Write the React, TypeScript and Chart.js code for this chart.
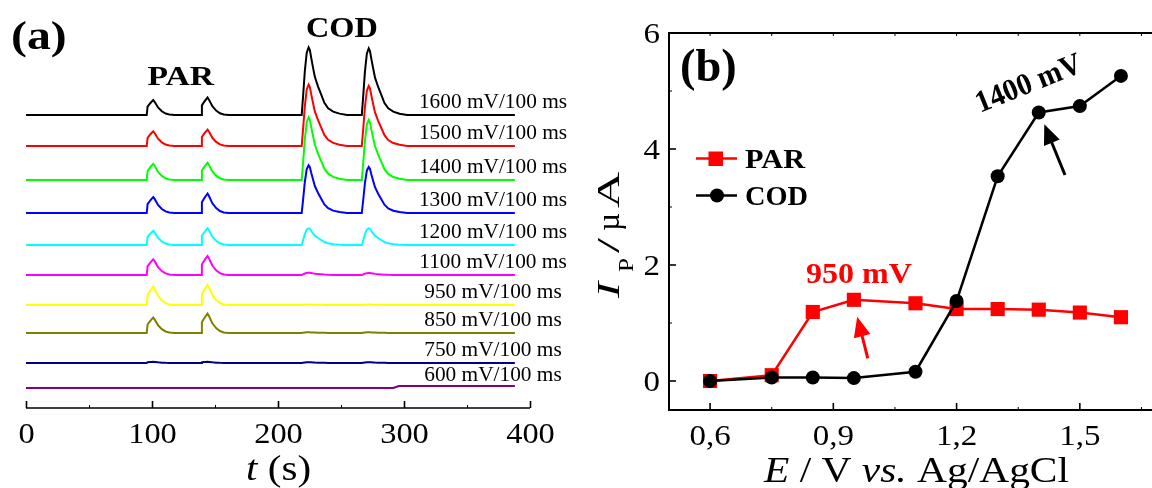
import React, { useEffect, useRef } from "react";
import { Chart, registerables } from "chart.js";

Chart.register(...registerables);

const SERIF = '"Liberation Serif", "Times New Roman", Times, serif';

// ---------------- Panel (a): chromatograms ----------------
const traceLabels = [
  "1600 mV/100 ms",
  "1500 mV/100 ms",
  "1400 mV/100 ms",
  "1300 mV/100 ms",
  "1200 mV/100 ms",
  "1100 mV/100 ms",
  "950 mV/100 ms",
  "850 mV/100 ms",
  "750 mV/100 ms",
  "600 mV/100 ms",
];
const traceColors = [
  "#000000",
  "#ff0000",
  "#00ff00",
  "#0000ff",
  "#00ffff",
  "#ff00ff",
  "#ffff00",
  "#808000",
  "#000080",
  "#800080",
];
// vertical offset of each trace (arbitrary stacking units)
const traceOffsets = [293, 262, 228, 195, 163, 133, 103, 75, 45, 20];
// peak heights (same units)
const parPeak1 = [15, 14.7, 16.2, 16, 14.3, 15.7, 18.3, 15.4, 1.3, 0];
const parPeak2 = [17.5, 16.4, 17.2, 19.4, 16.7, 19, 20, 19.4, 1.3, 0];
const codPeak1 = [67.7, 61.4, 62.8, 47.7, 16.7, 2.3, 0.5, 0.7, 0.8, 0];
const codPeak2 = [66.7, 60, 60.2, 46, 16.7, 2, 0.5, 0.7, 0.8, 0];
const lateDrift = [0, 0, 0, 0, 0, 0, 0, 0, 0, 2];
const driftTime = 292;
// injection (peak start) times, s
const peakStarts = [95.8, 138.9, 218.8, 266.5];
// normalised peak shapes: [seconds after start, fraction of height]
const parProfile: [number, number][] = [
  [0, 0], [0.7, 0.55], [2.2, 0.72], [3.5, 0.85], [5.2, 1], [6.5, 0.85],
  [9, 0.5], [12, 0.25], [15, 0.1], [18, 0.03], [22, 0],
];
const codProfile: [number, number][] = [
  [0, 0], [1, 0.25], [2.5, 0.65], [4, 0.92], [5.5, 1], [6.5, 0.96], [7.5, 0.85],
  [9, 0.7], [10.5, 0.56], [13, 0.42], [15.5, 0.3], [18, 0.18], [21, 0.1],
  [25, 0.05], [30, 0.02], [36, 0],
];
const runEnd = 388;
const timeTicks = [0, 100, 200, 300, 400];
const timeMinorTicks = [50, 150, 250, 350];

// ---------------- Panel (b): peak current vs potential ----------------
const potentials = [0.6, 0.75, 0.85, 0.95, 1.1, 1.2, 1.3, 1.4, 1.5, 1.6];
const parCurrent = [0, 0.1, 1.19, 1.4, 1.34, 1.24, 1.24, 1.23, 1.18, 1.1];
const codCurrent = [0, 0.06, 0.06, 0.05, 0.16, 1.38, 3.53, 4.63, 4.74, 5.26];
const potentialTicks = [0.6, 0.9, 1.2, 1.5];
const potentialMinorTicks = [0.75, 1.05, 1.35, 1.65];
const topAxisTicks = [0.6, 0.75, 0.9, 1.05, 1.2, 1.35, 1.5, 1.65];
const currentTicks = [0, 2, 4, 6];
const currentMinorTicks = [1, 3, 5];

type TextOpts = {
  font: string;
  color?: string;
  align?: "left" | "center" | "right";
  baseline?: CanvasTextBaseline;
  width?: number;
  sx?: number;
};

function drawText(ctx: CanvasRenderingContext2D, text: string, x: number, y: number, o: TextOpts) {
  ctx.save();
  ctx.font = o.font;
  ctx.fillStyle = o.color ?? "#000";
  ctx.textBaseline = o.baseline ?? "alphabetic";
  const w = ctx.measureText(text).width;
  const sx = o.width ? o.width / w : o.sx ?? 1;
  ctx.translate(x, y);
  ctx.scale(sx, 1);
  ctx.textAlign = o.align ?? "left";
  ctx.fillText(text, 0, 0);
  ctx.restore();
}

type Part = { text: string; font: string };
function drawRich(
  ctx: CanvasRenderingContext2D,
  parts: Part[],
  x: number,
  y: number,
  align: "left" | "center",
  width: number | undefined,
  color = "#000"
) {
  ctx.save();
  let total = 0;
  const ws = parts.map((p) => {
    ctx.font = p.font;
    const w = ctx.measureText(p.text).width;
    total += w;
    return w;
  });
  const sx = width ? width / total : 1;
  const start = align === "center" ? x - (total * sx) / 2 : x;
  ctx.translate(start, y);
  ctx.scale(sx, 1);
  ctx.fillStyle = color;
  ctx.textAlign = "left";
  ctx.textBaseline = "alphabetic";
  let cx = 0;
  parts.forEach((p, i) => {
    ctx.font = p.font;
    ctx.fillText(p.text, cx, 0);
    cx += ws[i];
  });
  ctx.restore();
}

function line(ctx: CanvasRenderingContext2D, x1: number, y1: number, x2: number, y2: number) {
  ctx.beginPath();
  ctx.moveTo(x1, y1);
  ctx.lineTo(x2, y2);
  ctx.stroke();
}

function drawArrow(
  ctx: CanvasRenderingContext2D,
  x1: number,
  y1: number,
  x2: number,
  y2: number,
  color: string,
  lw: number,
  headLen: number,
  headW: number
) {
  const a = Math.atan2(y2 - y1, x2 - x1);
  const c = Math.cos(a);
  const s = Math.sin(a);
  const bx = x2 - headLen * c;
  const by = y2 - headLen * s;
  ctx.save();
  ctx.strokeStyle = color;
  ctx.fillStyle = color;
  ctx.lineWidth = lw;
  line(ctx, x1, y1, bx + 2 * c, by + 2 * s);
  ctx.beginPath();
  ctx.moveTo(x2, y2);
  ctx.lineTo(bx - (headW / 2) * s, by + (headW / 2) * c);
  ctx.lineTo(bx + (headW / 2) * s, by - (headW / 2) * c);
  ctx.closePath();
  ctx.fill();
  ctx.restore();
}

function buildTrace(i: number) {
  const base = traceOffsets[i];
  const heights = [parPeak1[i], parPeak2[i], codPeak1[i], codPeak2[i]];
  const profiles = [parProfile, parProfile, codProfile, codProfile];
  const pts: { x: number; y: number }[] = [{ x: 0, y: base }];
  peakStarts.forEach((t0, k) => {
    profiles[k].forEach(([dt, f]) => pts.push({ x: t0 + dt, y: base + heights[k] * f }));
  });
  pts.push({ x: runEnd, y: base });
  if (lateDrift[i] !== 0) {
    pts.push({ x: driftTime, y: base });
    pts.push({ x: driftTime + 4, y: base });
  }
  pts.sort((a, b) => a.x - b.x);
  // baseline shift after the drift time
  pts.forEach((p) => {
    if (p.x >= driftTime + 4) p.y += lateDrift[i];
  });
  return pts;
}

const OFFB = 590; // page x of panel (b) canvas

const panelAPlugin = {
  id: "panelA",
  afterDraw(chart: any) {
    const ctx: CanvasRenderingContext2D = chart.ctx;
    const xs = chart.scales.x;
    const ys = chart.scales.y;
    const { left, right, bottom } = chart.chartArea;
    ctx.save();
    ctx.strokeStyle = "#000";
    ctx.lineWidth = 1.6;
    line(ctx, left, bottom, right, bottom);
    timeTicks.forEach((v) => {
      const px = Math.round(xs.getPixelForValue(v)) + 0.5;
      line(ctx, px, bottom, px, bottom - 7);
      drawText(ctx, String(v), px, 443, { font: `30px ${SERIF}`, align: "center", sx: 1.08 });
    });
    ctx.lineWidth = 1;
    timeMinorTicks.forEach((v) => {
      const px = Math.round(xs.getPixelForValue(v)) + 0.5;
      line(ctx, px, bottom, px, bottom - 3);
    });
    ctx.restore();

    // axis title t (s)
    drawRich(
      ctx,
      [
        { text: "t", font: `italic 36px ${SERIF}` },
        { text: " (s)", font: `36px ${SERIF}` },
      ],
      278.6,
      480,
      "center",
      65
    );

    // trace labels
    traceLabels.forEach((lab, i) => {
      const py = ys.getPixelForValue(traceOffsets[i]);
      drawText(ctx, lab, 493, py - 7, { font: `22px ${SERIF}`, align: "center", sx: 0.97 });
    });

    drawText(ctx, "(a)", 11, 49, { font: `bold 39px ${SERIF}`, width: 55.7 });
    drawText(ctx, "PAR", 147.4, 85, { font: `bold 28px ${SERIF}`, width: 66.6 });
    drawText(ctx, "COD", 306, 36.5, { font: `bold 30px ${SERIF}`, width: 71.8 });
  },
};

const panelBPlugin = {
  id: "panelB",
  afterDraw(chart: any) {
    const ctx: CanvasRenderingContext2D = chart.ctx;
    const xs = chart.scales.x;
    const ys = chart.scales.y;
    const { left, right, top, bottom } = chart.chartArea;
    ctx.save();
    ctx.strokeStyle = "#000";
    ctx.lineWidth = 2;
    ctx.strokeRect(left, top, right - left, bottom - top);

    // bottom axis
    potentialTicks.forEach((v) => {
      const px = xs.getPixelForValue(v);
      ctx.lineWidth = 1.6;
      line(ctx, px, bottom, px, bottom - 7);
      drawText(ctx, v.toFixed(1).replace(".", ","), px, 445, {
        font: `30px ${SERIF}`,
        align: "center",
        sx: 1.1,
      });
    });
    ctx.lineWidth = 1;
    potentialMinorTicks.forEach((v) => {
      const px = xs.getPixelForValue(v);
      line(ctx, px, bottom, px, bottom - 3);
    });
    topAxisTicks.forEach((v) => {
      const px = xs.getPixelForValue(v);
      line(ctx, px, top, px, top + 3);
    });
    // left axis
    currentTicks.forEach((v) => {
      const py = ys.getPixelForValue(v);
      ctx.lineWidth = 1.6;
      line(ctx, left, py, left + 7, py);
      drawText(ctx, String(v), 660 - OFFB, py + 10, { font: `30px ${SERIF}`, align: "right", sx: 1.1 });
    });
    ctx.lineWidth = 1;
    currentMinorTicks.forEach((v) => {
      const py = ys.getPixelForValue(v);
      line(ctx, left, py, left + 3, py);
    });
    ctx.restore();

    // x title
    drawRich(
      ctx,
      [
        { text: "E", font: `italic 36px ${SERIF}` },
        { text: " / V ", font: `36px ${SERIF}` },
        { text: "vs.", font: `italic 36px ${SERIF}` },
        { text: " Ag/AgCl", font: `36px ${SERIF}` },
      ],
      764 - OFFB,
      482,
      "left",
      305
    );

    // y title (rotated): I_P / µA
    ctx.save();
    ctx.translate(619 - OFFB, 300);
    ctx.rotate(-Math.PI / 2);
    ctx.fillStyle = "#000";
    const yParts: { text: string; font: string; at: number; dy: number; len: number }[] = [
      { text: "I", font: `italic 32px ${SERIF}`, at: 2, dy: 0, len: 16 },
      { text: "P", font: `21px ${SERIF}`, at: 28, dy: 14, len: 14 },
      { text: "/", font: `32px ${SERIF}`, at: 47, dy: 0, len: 15 },
      { text: "\u00b5", font: `32px ${SERIF}`, at: 69, dy: 0, len: 18 },
      { text: "A", font: `32px ${SERIF}`, at: 92, dy: 0, len: 36 },
    ];
    yParts.forEach((p) => {
      ctx.save();
      ctx.font = p.font;
      const w = ctx.measureText(p.text).width;
      ctx.translate(p.at, p.dy);
      ctx.scale(p.len / w, 1);
      ctx.textAlign = "left";
      ctx.textBaseline = "alphabetic";
      ctx.fillText(p.text, 0, 0);
      ctx.restore();
    });
    ctx.restore();

    // panel letter
    drawText(ctx, "(b)", 680 - OFFB, 81, { font: `bold 46px ${SERIF}`, width: 56.7 });

    // legend
    ctx.save();
    ctx.lineWidth = 2.5;
    ctx.strokeStyle = "#ff0000";
    line(ctx, 696 - OFFB, 158.5, 737 - OFFB, 158.5);
    ctx.fillStyle = "#ff0000";
    ctx.fillRect(708.5 - OFFB, 151.5, 14.5, 14.5);
    ctx.strokeStyle = "#000";
    line(ctx, 696 - OFFB, 195.5, 737 - OFFB, 195.5);
    ctx.fillStyle = "#000";
    ctx.beginPath();
    ctx.arc(717 - OFFB, 195.5, 7, 0, Math.PI * 2);
    ctx.fill();
    ctx.restore();
    drawText(ctx, "PAR", 745 - OFFB, 168, { font: `bold 28px ${SERIF}`, width: 60 });
    drawText(ctx, "COD", 745 - OFFB, 204.5, { font: `bold 28px ${SERIF}`, width: 63 });

    // annotations
    drawText(ctx, "950 mV", 806 - OFFB, 283, { font: `bold 30px ${SERIF}`, color: "#ff0000", width: 106 });
    drawArrow(ctx, 867.8 - OFFB, 358.3, 857.2 - OFFB, 316.7, "#ff0000", 3, 20, 17);

    ctx.save();
    ctx.translate(980 - OFFB, 113);
    ctx.rotate((-22 * Math.PI) / 180);
    ctx.scale(0.95, 1);
    ctx.font = `bold 31px ${SERIF}`;
    ctx.fillStyle = "#000";
    ctx.textAlign = "left";
    ctx.textBaseline = "alphabetic";
    ctx.fillText("1400 mV", 0, 0);
    ctx.restore();
    drawArrow(ctx, 1065 - OFFB, 175, 1044.3 - OFFB, 124.3, "#000", 3, 20, 17);
  },
};

export default function App() {
  const refA = useRef<HTMLCanvasElement | null>(null);
  const refB = useRef<HTMLCanvasElement | null>(null);

  useEffect(() => {
    if (!refA.current || !refB.current) return;
    const chartA = new Chart(refA.current, {
      type: "line",
      data: {
        datasets: traceLabels.map((lab, i) => ({
          label: lab,
          data: buildTrace(i),
          borderColor: traceColors[i],
          backgroundColor: traceColors[i],
          borderWidth: 2,
          pointRadius: 0,
          tension: 0,
          fill: false,
        })),
      },
      options: {
        responsive: false,
        animation: false,
        events: [],
        parsing: false as any,
        layout: { padding: { left: 26, right: 60, top: 0, bottom: 80 } },
        scales: {
          x: { type: "linear", min: 0, max: 400, display: false },
          y: { type: "linear", min: 0, max: 408, display: false },
        },
        plugins: { legend: { display: false }, tooltip: { enabled: false } },
      },
      plugins: [panelAPlugin],
    });

    const chartB = new Chart(refB.current, {
      type: "line",
      data: {
        datasets: [
          {
            label: "COD",
            data: potentials.map((x, i) => ({ x, y: codCurrent[i] })),
            borderColor: "#000000",
            backgroundColor: "#000000",
            borderWidth: 2.5,
            pointStyle: "circle",
            pointRadius: 7,
            pointBorderWidth: 0,
            tension: 0,
            order: 0,
            clip: false as any,
          },
          {
            label: "PAR",
            data: potentials.map((x, i) => ({ x, y: parCurrent[i] })),
            borderColor: "#ff0000",
            backgroundColor: "#ff0000",
            borderWidth: 2.5,
            pointStyle: "rect",
            pointRadius: 10,
            pointBorderWidth: 0,
            tension: 0,
            order: 1,
            clip: false as any,
          },
        ],
      },
      options: {
        responsive: false,
        animation: false,
        events: [],
        layout: { padding: { left: 79, right: 18, top: 33, bottom: 78 } },
        scales: {
          x: { type: "linear", min: 0.5, max: 1.7, display: false },
          y: { type: "linear", min: -0.5, max: 6, display: false },
        },
        plugins: { legend: { display: false }, tooltip: { enabled: false } },
      },
      plugins: [panelBPlugin],
    });

    return () => {
      chartA.destroy();
      chartB.destroy();
    };
  }, []);

  return (
    <div
      style={{
        position: "fixed",
        left: 0,
        top: 0,
        width: 1152,
        height: 488,
        overflow: "hidden",
        background: "#fff",
      }}
    >
      <canvas ref={refA} width={590} height={488} style={{ position: "absolute", left: 0, top: 0 }} />
      <canvas ref={refB} width={590} height={488} style={{ position: "absolute", left: OFFB, top: 0 }} />
    </div>
  );
}
